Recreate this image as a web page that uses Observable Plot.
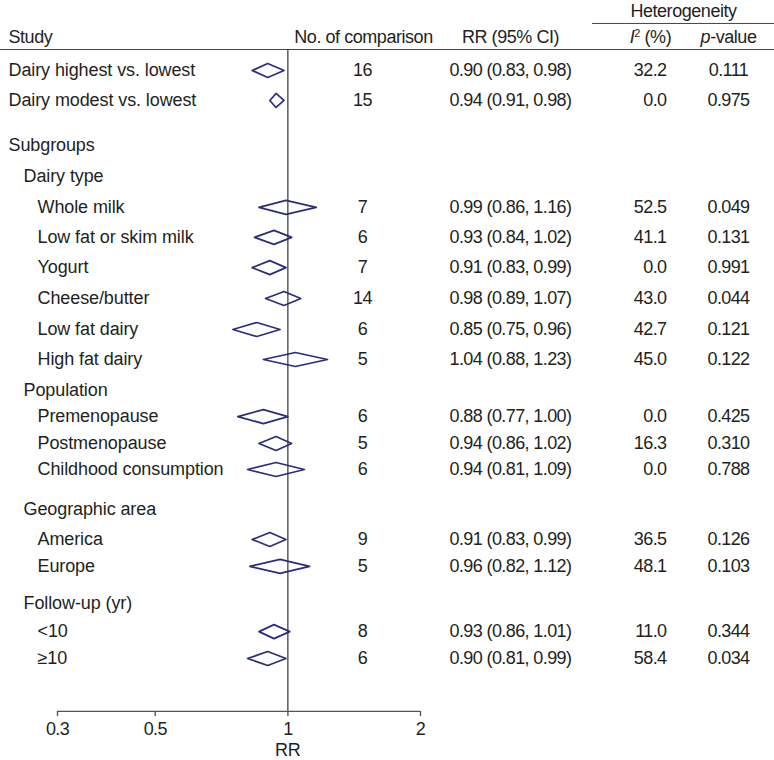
<!DOCTYPE html>
<html>
<head>
<meta charset="utf-8">
<script src="https://cdn.jsdelivr.net/npm/d3@7"></script>
<script src="https://cdn.jsdelivr.net/npm/@observablehq/plot@0.6"></script>
<style>
  html, body { margin: 0; padding: 0; background: #fff; }
  #chart svg { display: block; }
</style>
</head>
<body>
<div id="chart"></div>
<script>
// ---- data ----
const studies = [
  "Dairy highest vs. lowest", "Dairy modest vs. lowest", "Subgroups", "Dairy type",
  "Whole milk", "Low fat or skim milk", "Yogurt", "Cheese/butter", "Low fat dairy", "High fat dairy",
  "Population", "Premenopause", "Postmenopause", "Childhood consumption",
  "Geographic area", "America", "Europe",
  "Follow-up (yr)", "<10", "≥10"
];
const indentLevel = [0, 0, 0, 1, 2, 2, 2, 2, 2, 2, 1, 2, 2, 2, 1, 2, 2, 1, 2, 2];
// table row slot (row order, with the uneven gaps of the reference table)
const rowSlot = [0, 1.07, 2.68, 3.79, 4.89, 5.96, 7.04, 8.14, 9.25, 10.32,
  11.43, 12.36, 13.32, 14.25, 15.68, 16.75, 17.71, 19.04, 20.04, 21];
const comparisons = [16, 15, null, null, 7, 6, 7, 14, 6, 5, null, 6, 5, 6, null, 9, 5, null, 8, 6];
const rr    = [0.90, 0.94, null, null, 0.99, 0.93, 0.91, 0.98, 0.85, 1.04, null, 0.88, 0.94, 0.94, null, 0.91, 0.96, null, 0.93, 0.90];
const lower = [0.83, 0.91, null, null, 0.86, 0.84, 0.83, 0.89, 0.75, 0.88, null, 0.77, 0.86, 0.81, null, 0.83, 0.82, null, 0.86, 0.81];
const upper = [0.98, 0.98, null, null, 1.16, 1.02, 0.99, 1.07, 0.96, 1.23, null, 1.00, 1.02, 1.09, null, 0.99, 1.12, null, 1.01, 0.99];
const i2    = [32.2, 0.0, null, null, 52.5, 41.1, 0.0, 43.0, 42.7, 45.0, null, 0.0, 16.3, 0.0, null, 36.5, 48.1, null, 11.0, 58.4];
const pValue = [0.111, 0.975, null, null, 0.049, 0.131, 0.991, 0.044, 0.121, 0.122, null, 0.425, 0.310, 0.788, null, 0.126, 0.103, null, 0.344, 0.034];
const xTicks = [0.3, 0.5, 1, 2];
const headerLabels = ["Study", "No. of comparison", "RR (95% CI)", "I² (%)", "p-value"];
const groupHeader = "Heterogeneity";
const axisLabel = "RR";

// ---- table built from the arrays ----
const rows = studies.map((s, i) => ({
  study: s, level: indentLevel[i], slot: rowSlot[i],
  n: comparisons[i], rr: rr[i], lo: lower[i], hi: upper[i], i2: i2[i], p: pValue[i]
}));
const stat = rows.filter(d => d.rr != null);

// diamonds as closed polylines
const diamondHalf = 0.25; // half height in row units
const diamonds = stat.flatMap((d, k) => [
  {id: k, x: d.lo, y: d.slot},
  {id: k, x: d.rr, y: d.slot - diamondHalf},
  {id: k, x: d.hi, y: d.slot},
  {id: k, x: d.rr, y: d.slot + diamondHalf},
  {id: k, x: d.lo, y: d.slot}
]);

const W = 774, H = 760;
const mL = 57, mR = 354, mT = 49, mB = 49;
const txt = "#231f20";
const navy = "#2b2d7c";
const f2 = d3.format(".2f"), f1 = d3.format(".1f"), f3 = d3.format(".3f");

// header slots (same row units as the table)
const headerSlot = -1.18, groupSlot = -2.12, groupRuleSlot = -1.68, headRuleSlot = -0.75, axisSlot = 22.89;

const colX = (px) => px - mL; // offset from frame left
const tx = {fill: txt, fontSize: 18};

const chart = Plot.plot({
  width: W, height: H,
  marginLeft: mL, marginRight: mR, marginTop: mT, marginBottom: mB,
  style: {fontFamily: "'Liberation Sans', Arial, Helvetica, sans-serif", fontSize: "18px", color: txt, background: "#fff"},
  x: {type: "log", domain: [0.3, 2], ticks: xTicks, tickFormat: d => String(d)},
  y: {type: "linear", domain: [0, 21], range: [70, 658], axis: null},
  marks: [
    // header rules
    Plot.ruleY([headRuleSlot], {stroke: "#444", strokeWidth: 1, insetLeft: -mL, insetRight: -mR}),
    Plot.ruleY([groupRuleSlot], {stroke: "#444", strokeWidth: 1, insetLeft: 592 - mL, insetRight: -mR}),
    // axis line
    Plot.ruleY([axisSlot], {stroke: "#555", strokeWidth: 1.4, insetLeft: 0, insetRight: 0}),
    // reference line at RR = 1
    Plot.ruleX([1], {stroke: "#333", strokeWidth: 1.2}),
    Plot.axisX({ticks: xTicks, tickFormat: d => String(d), tickSize: 5, tickPadding: 6, stroke: "#555", strokeWidth: 1.4, fontSize: 18, label: null}),
    Plot.text([axisLabel], {x: [1], frameAnchor: "bottom", dy: 39, lineAnchor: "middle", ...tx}),
    // diamonds
    Plot.line(diamonds, {x: "x", y: "y", z: "id", stroke: navy, strokeWidth: 1.7, curve: "linear"}),
    // study labels by indent level
    Plot.text(rows.filter(d => d.level === 0), {y: "slot", text: "study", frameAnchor: "left", textAnchor: "start", dx: colX(8), ...tx}),
    Plot.text(rows.filter(d => d.level === 1), {y: "slot", text: "study", frameAnchor: "left", textAnchor: "start", dx: colX(23), ...tx}),
    Plot.text(rows.filter(d => d.level === 2), {y: "slot", text: "study", frameAnchor: "left", textAnchor: "start", dx: colX(37), ...tx}),
    // value columns
    Plot.text(stat, {y: "slot", text: d => String(d.n), frameAnchor: "left", textAnchor: "middle", dx: colX(362), ...tx}),
    Plot.text(stat, {y: "slot", text: d => `${f2(d.rr)} (${f2(d.lo)}, ${f2(d.hi)})`, frameAnchor: "left", textAnchor: "start", dx: colX(449), ...tx}),
    Plot.text(stat, {y: "slot", text: d => f1(d.i2), frameAnchor: "left", textAnchor: "end", dx: colX(666), ...tx}),
    Plot.text(stat, {y: "slot", text: d => f3(d.p), frameAnchor: "left", textAnchor: "middle", dx: colX(728), ...tx}),
    // headers
    Plot.text([groupHeader], {y: [groupSlot], frameAnchor: "left", textAnchor: "middle", dx: colX(683), ...tx}),
    Plot.text([headerLabels[0]], {y: [headerSlot], frameAnchor: "left", textAnchor: "start", dx: colX(8), ...tx}),
    Plot.text([headerLabels[1]], {y: [headerSlot], frameAnchor: "left", textAnchor: "middle", dx: colX(363), ...tx}),
    Plot.text([headerLabels[2]], {y: [headerSlot], frameAnchor: "left", textAnchor: "middle", dx: colX(510), ...tx}),
    Plot.text([headerLabels[3]], {y: [headerSlot], frameAnchor: "left", textAnchor: "middle", dx: colX(650), ...tx}),
    Plot.text([headerLabels[4]], {y: [headerSlot], frameAnchor: "left", textAnchor: "middle", dx: colX(728), ...tx})
  ]
});

// typographic touches: tighter digits, italic I and p in the heterogeneity headers
const headerSet = new Set([...headerLabels, groupHeader]);
d3.select(chart).selectAll("text").each(function() {
  const t = this.textContent;
  const s = d3.select(this);
  if (/^[\d.()\s,]+$/.test(t)) s.attr("letter-spacing", "-0.6px");
  else if (headerSet.has(t)) s.attr("letter-spacing", "-0.45px");
  else s.attr("letter-spacing", "-0.1px");
  if (t === "I² (%)") {
    this.textContent = "";
    s.append("tspan").attr("font-style", "italic").text("I");
    s.append("tspan").attr("font-size", "11px").attr("dy", "-6").text("2");
    s.append("tspan").attr("dy", "6").text(" (%)");
  } else if (t === "p-value") {
    this.textContent = "";
    s.append("tspan").attr("font-style", "italic").text("p");
    s.append("tspan").text("-value");
  }
});

document.getElementById("chart").appendChild(chart);
</script>
</body>
</html>
